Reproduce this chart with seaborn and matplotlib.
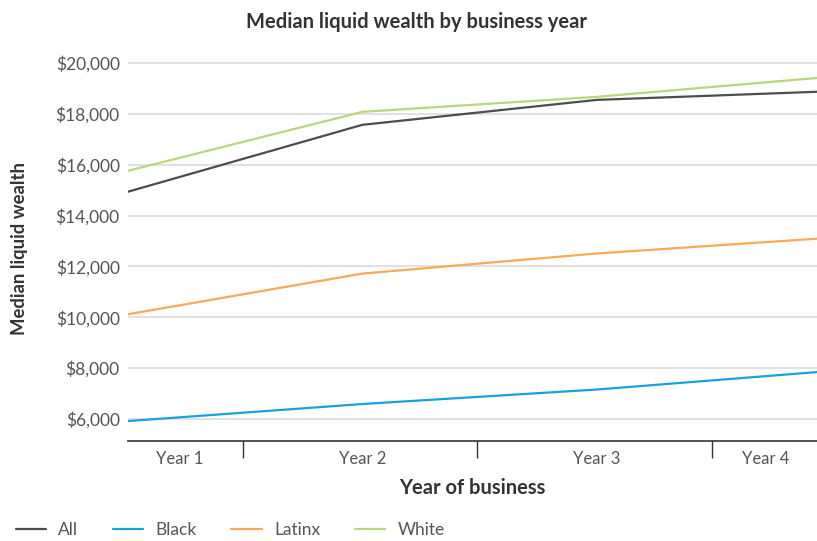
import matplotlib
matplotlib.use("Agg")
import matplotlib.pyplot as plt
import matplotlib.ticker as mticker
import seaborn as sns
import pandas as pd

# data
years = [1, 2, 3, 4]
year_labels = ["Year 1", "Year 2", "Year 3", "Year 4"]
all_vals = [14940, 17570, 18550, 18890]
black_vals = [5920, 6590, 7160, 7890]
latinx_vals = [10120, 11720, 12510, 13130]
white_vals = [15760, 18080, 18670, 19460]

groups = ["All", "Black", "Latinx", "White"]
colors = {"All": "#4d4d4f", "Black": "#17a2dd", "Latinx": "#f9a95a", "White": "#b7d77c"}

df = pd.DataFrame({
    "year": years * 4,
    "wealth": all_vals + black_vals + latinx_vals + white_vals,
    "group": sum([[g] * 4 for g in groups], []),
})

sns.set_theme(style="white")
plt.rcParams["font.family"] = ["Lato", "DejaVu Sans"]

fig = plt.figure(figsize=(8.17, 5.41), dpi=100)
ax = fig.add_axes([0.1567, 0.1848, 0.8433, 0.7128])

sns.lineplot(data=df, x="year", y="wealth", hue="group", palette=colors,
             linewidth=1.6, ax=ax, legend=False)

ax.set_xlim(1, 3.94)
ax.set_ylim(5135, 20300)
ax.set_yticks(range(6000, 20001, 2000))
ax.yaxis.set_major_formatter(mticker.FuncFormatter(lambda v, p: f"${v:,.0f}"))
ax.grid(axis="y", color="#dedede", linewidth=1.3)
ax.set_axisbelow(True)

# category separators and labels centred in visible segments
ax.set_xticks([1.49, 2.49, 3.49], minor=True)
ax.set_xticks([1.22, 2, 3, 3.72])
ax.set_xticklabels(year_labels)
ax.tick_params(axis="x", which="minor", bottom=True, length=12, width=1,
               color="#333333", direction="out")
ax.tick_params(axis="x", which="major", length=0, pad=7, labelsize=12, labelcolor="#555555")
ax.tick_params(axis="y", length=0, pad=6, labelsize=12.5, labelcolor="#555555")

for s in ["top", "right", "left"]:
    ax.spines[s].set_visible(False)
ax.spines["bottom"].set_color("#333333")
ax.spines["bottom"].set_linewidth(1.2)

ax.set_xlabel("Year of business", fontsize=14.5, fontweight="bold", color="#333333", labelpad=8)
ax.set_ylabel("Median liquid wealth", fontsize=13.3, fontweight="bold", color="#333333", labelpad=20)
fig.text(0.51, 0.96, "Median liquid wealth by business year", ha="center", va="center",
         fontsize=14.5, fontweight="bold", color="#333333")

handles = [plt.Line2D([], [], color=colors[g], linewidth=1.6) for g in groups]
fig.legend(handles, groups, loc="center left", bbox_to_anchor=(0.0, 0.02), ncol=4,
           frameon=False, fontsize=12.5, handlelength=1.75, columnspacing=2.0,
           handletextpad=0.7, labelcolor="#555555")

fig.savefig("out.png", dpi=100)
